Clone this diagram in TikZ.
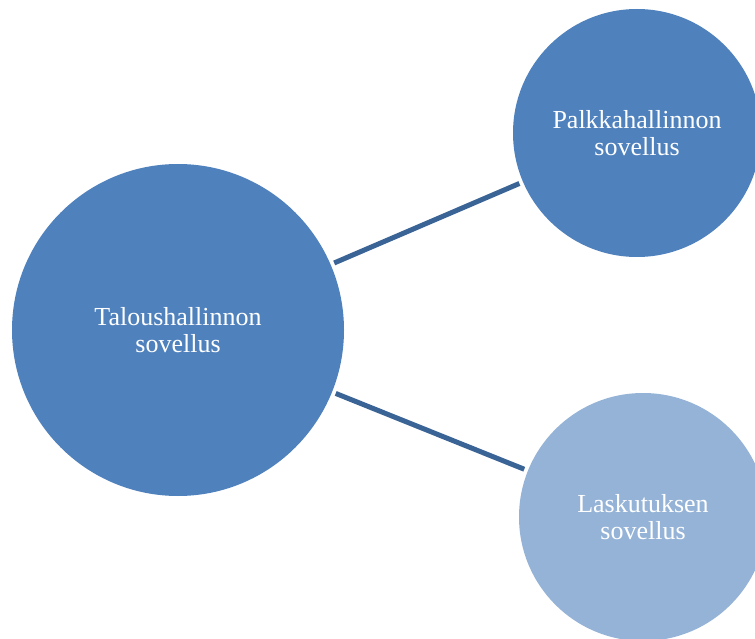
\documentclass[tikz,border=0pt]{standalone}
\usepackage{fontspec}
\setmainfont{Liberation Serif}
\definecolor{accent}{HTML}{4F81BD}
\definecolor{accentlight}{HTML}{95B3D7}
\definecolor{linkline}{HTML}{3B6496}
\begin{document}
\begin{tikzpicture}[x=1pt,y=-1pt,
  app/.style={circle, fill=accent, draw=none, inner sep=0pt, outer sep=4pt,
    text=white, align=center,
    font=\fontsize{26}{27}\selectfont},
  applight/.style={app, fill=accentlight},
  link/.style={draw=linkline, line width=5pt, line cap=butt}]
  \useasboundingbox (0,0) rectangle (755,639);
  \begin{scope}
    \clip (0,0) rectangle (755,639);
    \node[app, minimum size=332pt] (talous) at (178,330) {Taloushallinnon\\sovellus};
    \node[app, minimum size=248pt] (palkka) at (637,133) {Palkkahallinnon\\sovellus};
    \node[applight, minimum size=248pt] (lasku) at (643,517) {Laskutuksen\\sovellus};
  \end{scope}
  \draw[link] (talous) -- (palkka);
  \draw[link] (talous) -- (lasku);
\end{tikzpicture}
\end{document}
